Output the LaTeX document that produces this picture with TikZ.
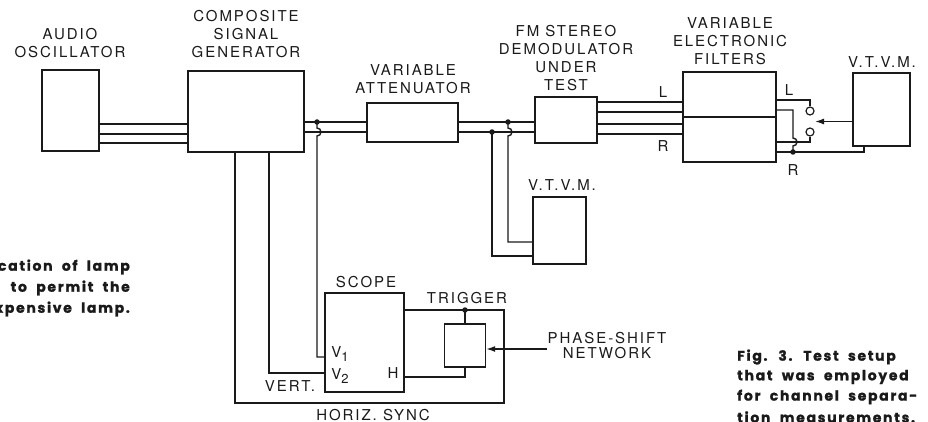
\documentclass[tikz,border=0pt]{standalone}
\usepackage{fontspec}
\setmainfont{TeX Gyre Heros}
\newfontfamily\labelfont[LetterSpace=13]{TeX Gyre Heros}
\newfontfamily\capfont[LetterSpace=12, WordSpace=2.0, BoldFeatures={FakeBold=1.2}]{Poppins}
\usetikzlibrary{arrows.meta}
\definecolor{inkblack}{HTML}{1A1A1A}

\tikzset{
  unit/.style={draw=inkblack, line width=1.4pt, inner sep=0pt},
  wire/.style={draw=inkblack, line width=1.4pt},
  tag/.style={font=\labelfont\fontsize{15}{18}\selectfont, text=inkblack, align=center, inner sep=0pt},
  dot/.style={circle, fill=inkblack, inner sep=0pt, minimum size=5.5pt},
  contact/.style={circle, draw=inkblack, line width=1.2pt, inner sep=0pt, minimum size=8pt},
  caption/.style={font=\capfont\bfseries\fontsize{14}{20}\selectfont, text=inkblack, inner sep=0pt},
  tip/.style={-{Latex[length=9pt,width=6pt]}}
}

\begin{document}
\begin{tikzpicture}[x=1pt, y=-1pt]
  \useasboundingbox (0,0) rectangle (928,422);

  % instruments
  \node[unit, minimum width=57pt, minimum height=81pt] (osc) at (70.5,110.5) {};
  \node[unit, minimum width=116pt, minimum height=81pt] (gen) at (246,111.5) {};
  \node[unit, minimum width=91pt, minimum height=39pt] (att) at (412.5,122.5) {};
  \node[unit, minimum width=62pt, minimum height=46pt] (demod) at (566,120) {};
  \node[unit, minimum width=93pt, minimum height=45pt] (filtL) at (729.5,94.5) {};
  \node[unit, minimum width=93pt, minimum height=45pt] (filtR) at (729.5,139.5) {};
  \node[unit, minimum width=57pt, minimum height=73pt] (vtvmR) at (881.5,109.5) {};
  \node[unit, minimum width=53pt, minimum height=67pt] (vtvmM) at (559.5,230.5) {};
  \node[unit, minimum width=79pt, minimum height=99pt] (scope) at (364.5,342.5) {};
  \node[unit, minimum width=41pt, minimum height=43pt] (phase) at (465,345.5) {};

  % labels
  \node[tag] (oscTag) at (70,43) {AUDIO\\OSCILLATOR};
  \node[tag] (genTag) at (246,34.5) {COMPOSITE\\SIGNAL\\GENERATOR};
  \node[tag] (attTag) at (413,79.5) {VARIABLE\\ATTENUATOR};
  \node[tag] (demodTag) at (566,58.5) {FM STEREO\\DEMODULATOR\\UNDER\\TEST};
  \node[tag] (filtTag) at (730,41) {VARIABLE\\ELECTRONIC\\FILTERS};
  \node[tag] (vtvmRTag) at (882,62) {V.T.V.M.};
  \node[tag] (vtvmMTag) at (562,185) {V.T.V.M.};
  \node[tag] (scopeTag) at (366,282) {SCOPE};
  \node[tag] (trigTag) at (467,298) {TRIGGER};
  \node[tag] (phaseTag) at (607,346) {PHASE-SHIFT\\[-3pt]NETWORK};
  \node[tag] (inL) at (663,92) {L};
  \node[tag] (inR) at (663,146) {R};
  \node[tag] (outL) at (789,90) {L};
  \node[tag] (outR) at (793,170) {R};
  \node[tag] (vOne) at (340,354) {V\raisebox{-4pt}{\fontsize{13}{13}\selectfont 1}};
  \node[tag] (vTwo) at (340,376) {V\raisebox{-4pt}{\fontsize{13}{13}\selectfont 2}};
  \node[tag] (hTag) at (393,373) {H};
  \node[tag] (vertTag) at (290,386) {VERT.};
  \node[tag] (syncTag) at (373,415) {HORIZ. SYNC};

  % junctions and switch contacts
  \node[dot] (jGen) at (317,122) {};
  \node[dot] (jAttA) at (492,132) {};
  \node[dot] (jAttB) at (508,122) {};
  \node[dot] (jTrig) at (465,310) {};
  \node[dot] (jCom) at (793,152) {};
  \node[contact] (cL) at (810,111) {};
  \node[contact] (cR) at (810,132) {};
  \coordinate (wiper) at (815,121.5);

  % signal chain
  \foreach \yy in {124,134,143}
    \draw[wire] (osc.east |- 0,\yy) -- (gen.west |- 0,\yy);
  \foreach \yy in {122,132} {
    \draw[wire] (gen.east |- 0,\yy) -- (att.west |- 0,\yy);
    \draw[wire] (att.east |- 0,\yy) -- (demod.west |- 0,\yy);
  }
  \foreach \yy in {102,112}
    \draw[wire] (demod.east |- 0,\yy) -- (filtL.west |- 0,\yy);
  \foreach \yy in {124,134}
    \draw[wire] (demod.east |- 0,\yy) -- (filtR.west |- 0,\yy);

  % middle meter
  \draw[wire] (jAttA.center) -- (492,256) -- (vtvmM.west |- 0,256);
  \draw[wire] (jAttB.center) -- (508,128) arc[start angle=-90, end angle=90, radius=4]
    -- (508,242) -- (vtvmM.west |- 0,242);

  % scope feeds
  \draw[wire] (jGen.center) -- (317,128) arc[start angle=-90, end angle=90, radius=4]
    -- (317,357) -- (scope.west |- 0,357);
  \draw[wire] (gen.south -| 269,0) -- (269,373) -- (scope.west |- 0,373);
  \draw[wire] (gen.south -| 235,0) -- (235,403) -- (504,403) -- (504,310) -- (scope.east |- 0,310);
  \draw[wire] (jTrig.center) -- (phase.north);
  \draw[wire] (phase.south) -- (465,377) -- (scope.east |- 0,377);
  \draw[wire, tip] (phaseTag.west |- 0,349) -- (phase.east |- 0,349);

  % filter outputs to meter switch
  \draw[wire] (filtL.east |- 0,100) -- (cL.north |- 0,100) -- (cL.north);
  \draw[wire] (filtR.east |- 0,142) -- (cR.south |- 0,142) -- (cR.south);
  \draw[wire] (filtL.east |- 0,110) -- (793,110) -- (793,138)
    arc[start angle=-90, end angle=90, radius=4] -- (jCom.center);
  \draw[wire] (filtR.east |- 0,152) -- (864,152) -- (vtvmR.south -| 864,0);
  \draw[wire, tip] (vtvmR.west |- wiper) -- (wiper);

  % captions
  \node[caption, anchor=east] (capA) at (130,267) {cation of lamp};
  \node[caption, anchor=east] (capB) at (130,288) {to permit the};
  \node[caption, anchor=east] (capC) at (130,309) {xpensive lamp.};
  \node[caption, anchor=west] (figA) at (737,357) {Fig. 3. Test setup};
  \node[caption, anchor=west] (figB) at (737,377) {that was employed};
  \node[caption, anchor=west] (figC) at (737,397) {for channel separa-};
  \node[caption, anchor=west] (figD) at (737,417) {tion measurements.};
\end{tikzpicture}
\end{document}
